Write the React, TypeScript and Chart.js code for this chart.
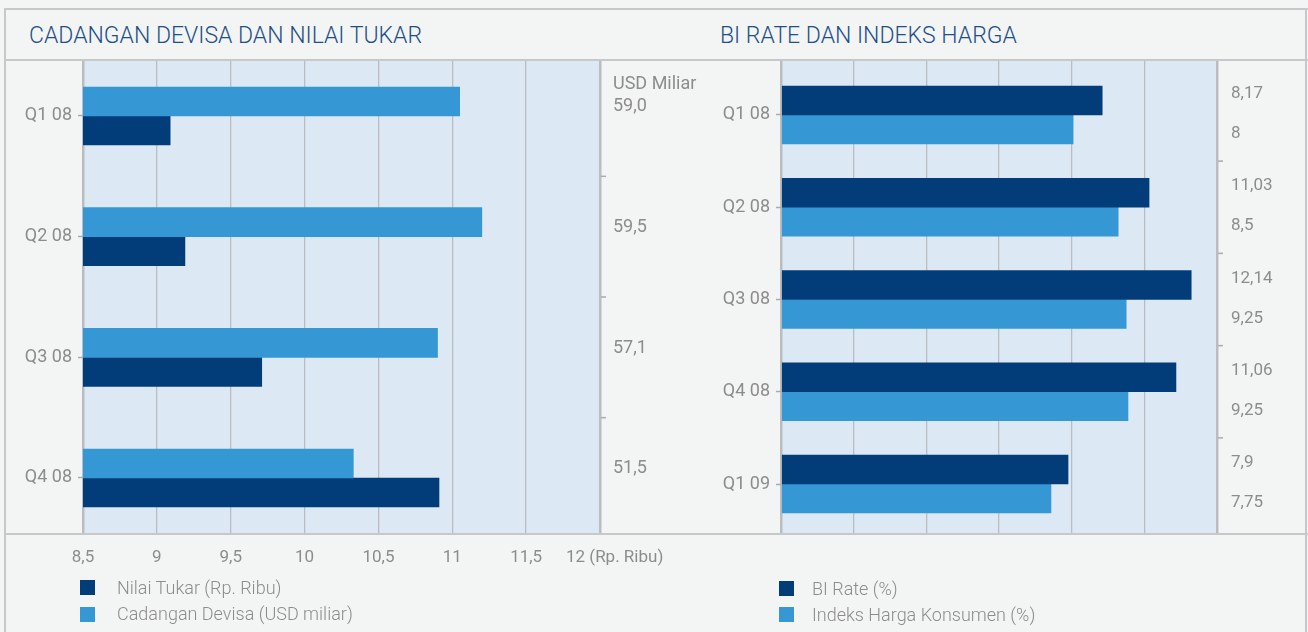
import React, { useEffect, useRef } from 'react';
import { Chart, registerables } from 'chart.js';

Chart.register(...registerables);

// ---------- data ----------
const leftCategories = ['Q1 08', 'Q2 08', 'Q3 08', 'Q4 08'];
const nilaiTukar = [9.09, 9.19, 9.71, 10.91];
const cadanganBar = [11.05, 11.2, 10.9, 10.33];
const cadanganValues = [59.0, 59.5, 57.1, 51.5];
const rupiahTicks = [8.5, 9, 9.5, 10, 10.5, 11, 11.5, 12];

const rightCategories = ['Q1 08', 'Q2 08', 'Q3 08', 'Q4 08', 'Q1 09'];
const biRateBar = [8.84, 10.13, 11.29, 10.87, 7.9];
const ihkBar = [8.04, 9.28, 9.5, 9.55, 7.43];
const biRateValues = [8.17, 11.03, 12.14, 11.06, 7.9];
const ihkValues = [8, 8.5, 9.25, 9.25, 7.75];
const rightTicks = [0, 2, 4, 6, 8, 10, 12];

const leftTitle = 'CADANGAN DEVISA DAN NILAI TUKAR';
const rightTitle = 'BI RATE DAN INDEKS HARGA';
const leftLegend = ['Nilai Tukar (Rp. Ribu)', 'Cadangan Devisa (USD miliar)'];
const rightLegend = ['BI Rate (%)', 'Indeks Harga Konsumen (%)'];
const unitLabel = 'USD Miliar';
const rupiahUnit = '(Rp. Ribu)';

// ---------- styles ----------
const GRAY_TEXT = '#8c8c8c';
const LINE = '#c6c8ca';
const GRID = '#b9bdc1';
const TICK = '#a9abad';
const PLOT_BG = '#dde8f5';
const PAGE_BG = '#f3f5f4';
const DARK = '#023d7a';
const LIGHT = '#3597d4';
const TITLE = '#1f4f8b';
const FONT = 'Roboto';

Chart.defaults.font.family = FONT;

const comma = (v: number) => String(v).replace('.', ',');
const comma1 = (v: number) => v.toFixed(1).replace('.', ',');

const plotBg = {
  id: 'plotBg',
  beforeDraw(chart: any) {
    const { ctx, chartArea } = chart;
    ctx.save();
    ctx.fillStyle = PLOT_BG;
    ctx.fillRect(chartArea.left, chartArea.top, chartArea.right - chartArea.left, chartArea.bottom - chartArea.top);
    ctx.restore();
  },
};

function drawBoundaryTicks(chart: any, n: number) {
  const { ctx, chartArea, scales } = chart;
  ctx.save();
  ctx.strokeStyle = TICK;
  ctx.lineWidth = 1.5;
  for (let i = 0; i < n - 1; i++) {
    const py = (scales.y.getPixelForValue(i) + scales.y.getPixelForValue(i + 1)) / 2;
    ctx.beginPath();
    ctx.moveTo(chartArea.right + 1, py);
    ctx.lineTo(chartArea.right + 6, py);
    ctx.stroke();
  }
  ctx.restore();
}

const leftExtras = {
  id: 'leftExtras',
  afterDraw(chart: any) {
    const { ctx, chartArea, scales } = chart;
    drawBoundaryTicks(chart, leftCategories.length);
    ctx.save();
    ctx.fillStyle = GRAY_TEXT;
    ctx.textAlign = 'left';
    ctx.textBaseline = 'middle';
    ctx.font = `18px ${FONT}`;
    cadanganValues.forEach((v, i) => {
      const py = scales.y.getPixelForValue(i);
      ctx.fillText(comma1(v), chartArea.right + 13, py - 9);
      if (i === 0) ctx.fillText(unitLabel, chartArea.right + 13, py - 31);
    });
    ctx.font = `17px ${FONT}`;
    const last = rupiahTicks[rupiahTicks.length - 1];
    ctx.fillText(`${comma(last)} ${rupiahUnit}`, scales.x.getPixelForValue(last) - 34, chartArea.bottom + 25);
    ctx.restore();
  },
};

const rightExtras = {
  id: 'rightExtras',
  afterDraw(chart: any) {
    const { ctx, chartArea, scales } = chart;
    drawBoundaryTicks(chart, rightCategories.length);
    ctx.save();
    ctx.fillStyle = GRAY_TEXT;
    ctx.textAlign = 'left';
    ctx.textBaseline = 'middle';
    ctx.font = `17px ${FONT}`;
    rightCategories.forEach((_, i) => {
      const py = scales.y.getPixelForValue(i);
      ctx.fillText(comma(biRateValues[i]), chartArea.right + 14, py - 21);
      ctx.fillText(comma(ihkValues[i]), chartArea.right + 14, py + 19);
    });
    ctx.restore();
  },
};

function makeConfig(opts: {
  labels: string[];
  datasets: any[];
  ticks: number[];
  showXLabels: boolean;
  yWidth: number;
  padRight: number;
  yStart: number;
  yRange: number;
  plugin: any;
}) {
  const { labels, datasets, ticks, showXLabels, yWidth, padRight, yStart, yRange, plugin } = opts;
  const lastIdx = ticks.length - 1;
  return {
    type: 'bar',
    data: { labels, datasets },
    options: {
      indexAxis: 'y',
      responsive: false,
      maintainAspectRatio: false,
      animation: false,
      devicePixelRatio: 1,
      layout: { padding: { left: 0, right: padRight, top: 0, bottom: 0 } },
      plugins: { legend: { display: false }, tooltip: { enabled: false }, title: { display: false } },
      scales: {
        x: {
          type: 'linear',
          min: ticks[0],
          max: ticks[lastIdx],
          afterBuildTicks: (s: any) => {
            s.ticks = ticks.map((v) => ({ value: v }));
          },
          ticks: {
            display: showXLabels,
            padding: 15,
            color: GRAY_TEXT,
            font: { size: 17 },
            autoSkip: false,
            maxRotation: 0,
            callback: (v: any, i: number) => (i === lastIdx ? '' : comma(Number(v))),
          },
          grid: {
            color: GRID,
            lineWidth: (c: any) => (c.index === 0 || c.index === lastIdx ? 2.5 : 1.3),
            drawTicks: false,
          },
          border: { display: false },
          afterFit: (s: any) => {
            s.height = 47;
            s.paddingLeft = 0;
            s.paddingRight = 0;
          },
        },
        y: {
          type: 'category',
          // category band placement along the plot height (in category units)
          afterBuildTicks: (s: any) => {
            s._startValue = yStart;
            s._valueRange = yRange;
          },
          ticks: { color: GRAY_TEXT, font: { size: 18 }, padding: 6 },
          grid: {
            offset: false,
            drawOnChartArea: false,
            drawTicks: true,
            tickLength: 5,
            tickColor: TICK,
            tickWidth: 1.5,
          },
          border: { display: false },
          afterFit: (s: any) => {
            s.width = yWidth;
            s.paddingTop = 0;
            s.paddingBottom = 0;
          },
        },
      },
    },
    plugins: [plotBg, plugin],
  } as any;
}

const abs = (style: any) => ({ position: 'absolute', ...style } as React.CSSProperties);

export default function App() {
  const leftRef = useRef<HTMLCanvasElement>(null);
  const rightRef = useRef<HTMLCanvasElement>(null);

  useEffect(() => {
    document.body.style.margin = '0';
    const left = new Chart(
      leftRef.current!,
      makeConfig({
        labels: leftCategories,
        datasets: [
          { label: leftLegend[1], data: cadanganBar, backgroundColor: LIGHT, barThickness: 29 },
          { label: leftLegend[0], data: nilaiTukar, backgroundColor: DARK, barThickness: 29 },
        ],
        ticks: rupiahTicks,
        showXLabels: true,
        yWidth: 83,
        padRight: 100,
        yStart: -0.464,
        yRange: 3.92,
        plugin: leftExtras,
      })
    );
    const right = new Chart(
      rightRef.current!,
      makeConfig({
        labels: rightCategories,
        datasets: [
          { label: rightLegend[0], data: biRateBar, backgroundColor: DARK, barThickness: 29 },
          { label: rightLegend[1], data: ihkBar, backgroundColor: LIGHT, barThickness: 29 },
        ],
        ticks: rightTicks,
        showXLabels: false,
        yWidth: 81,
        padRight: 91,
        yStart: -0.596,
        yRange: 5.127,
        plugin: rightExtras,
      })
    );
    return () => {
      left.destroy();
      right.destroy();
    };
  }, []);

  const titleStyle = {
    fontFamily: FONT,
    fontSize: 23,
    lineHeight: '23px',
    color: TITLE,
    whiteSpace: 'nowrap',
    fontWeight: 300,
    top: 24,
  };
  const legendText = {
    fontFamily: FONT,
    fontSize: 18,
    lineHeight: '18px',
    color: GRAY_TEXT,
    whiteSpace: 'nowrap',
    fontWeight: 300,
  };

  return (
    <div style={{ position: 'relative', width: 1308, height: 632, background: PAGE_BG, overflow: 'hidden' }}>
      <canvas ref={leftRef} width={700} height={520} style={abs({ left: 0, top: 60 })} />
      <canvas ref={rightRef} width={608} height={520} style={abs({ left: 700, top: 60 })} />

      {/* frame lines */}
      <div style={abs({ left: 4, top: 8, width: 1304, height: 2, background: LINE })} />
      <div style={abs({ left: 4, top: 8, width: 2, height: 624, background: LINE })} />
      <div style={abs({ left: 1305, top: 8, width: 2, height: 624, background: LINE })} />
      <div style={abs({ left: 4, top: 59, width: 1304, height: 2, background: LINE })} />
      <div style={abs({ left: 4, top: 533, width: 1304, height: 2, background: LINE })} />

      {/* titles */}
      <div style={abs({ ...titleStyle, left: 29 })}>{leftTitle}</div>
      <div style={abs({ ...titleStyle, left: 720 })}>{rightTitle}</div>

      {/* legends */}
      <div style={abs({ left: 80, top: 580, width: 15, height: 15, background: DARK })} />
      <div style={abs({ ...legendText, left: 117, top: 579 })}>{leftLegend[0]}</div>
      <div style={abs({ left: 80, top: 607, width: 15, height: 15, background: LIGHT })} />
      <div style={abs({ ...legendText, left: 117, top: 605 })}>{leftLegend[1]}</div>

      <div style={abs({ left: 779, top: 581, width: 15, height: 15, background: DARK })} />
      <div style={abs({ ...legendText, left: 812, top: 580 })}>{rightLegend[0]}</div>
      <div style={abs({ left: 779, top: 607, width: 15, height: 15, background: LIGHT })} />
      <div style={abs({ ...legendText, left: 812, top: 606 })}>{rightLegend[1]}</div>
    </div>
  );
}
